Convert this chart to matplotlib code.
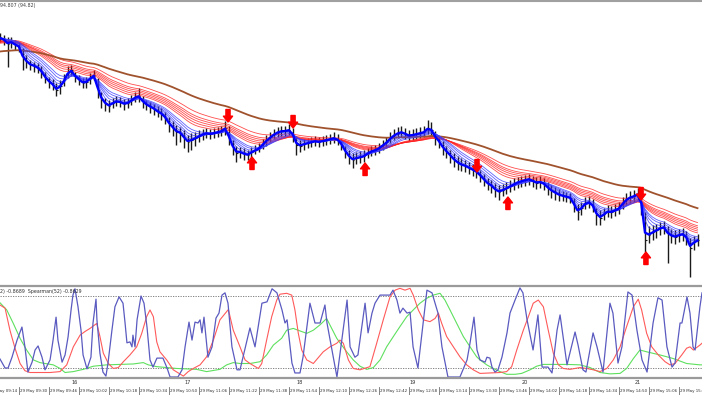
import numpy as np
import pandas as pd
import matplotlib
matplotlib.use("Agg")
import matplotlib.pyplot as plt
import matplotlib.transforms as mtransforms
from matplotlib.lines import Line2D

#------------- price data (2 minute bars from 09:20) -------------#

close = [94.962, 94.960, 94.956, 94.958, 94.955, 94.953, 94.942, 94.938, 94.935, 94.934,
         94.932, 94.928, 94.922, 94.918, 94.915, 94.910, 94.914, 94.920, 94.928, 94.930,
         94.923, 94.920, 94.917, 94.918, 94.922, 94.925, 94.910, 94.900, 94.896, 94.894,
         94.897, 94.899, 94.898, 94.896, 94.897, 94.900, 94.903, 94.904, 94.898, 94.895,
         94.893, 94.891, 94.888, 94.886, 94.882, 94.876, 94.872, 94.868, 94.867, 94.862,
         94.858, 94.860, 94.862, 94.864, 94.866, 94.867, 94.866, 94.867, 94.868, 94.869,
         94.872, 94.862, 94.852, 94.847, 94.848, 94.846, 94.845, 94.848, 94.850, 94.852,
         94.856, 94.860, 94.863, 94.866, 94.868, 94.869, 94.869, 94.870, 94.865, 94.855,
         94.854, 94.856, 94.857, 94.858, 94.859, 94.858, 94.859, 94.860, 94.861, 94.862,
         94.860, 94.855, 94.848, 94.843, 94.840, 94.842, 94.843, 94.844, 94.847, 94.849,
         94.850, 94.852, 94.855, 94.858, 94.862, 94.865, 94.867, 94.868, 94.866, 94.864,
         94.865, 94.866, 94.867, 94.868, 94.872, 94.870, 94.862, 94.858, 94.852, 94.848,
         94.844, 94.840, 94.837, 94.835, 94.834, 94.832, 94.830, 94.828, 94.824, 94.820,
         94.816, 94.814, 94.810, 94.808, 94.810, 94.812, 94.814, 94.816, 94.818, 94.819,
         94.820, 94.821, 94.819, 94.817, 94.818, 94.816, 94.812, 94.809, 94.807, 94.805,
         94.804, 94.803, 94.802, 94.795, 94.788, 94.792, 94.797, 94.798, 94.794, 94.785,
         94.782, 94.786, 94.789, 94.788, 94.790, 94.792, 94.797, 94.801, 94.803, 94.804,
         94.806, 94.795, 94.760, 94.765, 94.768, 94.770, 94.772, 94.773, 94.766, 94.764,
         94.763, 94.765, 94.766, 94.762, 94.752, 94.758, 94.760]

high = [94.967, 94.965, 94.963, 94.963, 94.960, 94.958, 94.952, 94.945, 94.940, 94.938,
        94.937, 94.934, 94.928, 94.923, 94.921, 94.917, 94.920, 94.926, 94.934, 94.935,
        94.928, 94.925, 94.922, 94.923, 94.927, 94.930, 94.922, 94.908, 94.902, 94.900,
        94.902, 94.904, 94.903, 94.901, 94.902, 94.905, 94.908, 94.912, 94.904, 94.900,
        94.898, 94.896, 94.894, 94.892, 94.888, 94.883, 94.879, 94.875, 94.873, 94.870,
        94.865, 94.867, 94.868, 94.870, 94.871, 94.872, 94.871, 94.872, 94.873, 94.874,
        94.879, 94.874, 94.860, 94.854, 94.853, 94.852, 94.850, 94.853, 94.855, 94.857,
        94.861, 94.865, 94.868, 94.871, 94.873, 94.874, 94.874, 94.876, 94.872, 94.864,
        94.860, 94.861, 94.862, 94.863, 94.864, 94.863, 94.864, 94.865, 94.866, 94.868,
        94.866, 94.861, 94.854, 94.850, 94.847, 94.848, 94.849, 94.850, 94.852, 94.854,
        94.855, 94.857, 94.860, 94.863, 94.868, 94.871, 94.873, 94.874, 94.872, 94.870,
        94.871, 94.872, 94.873, 94.874, 94.880, 94.878, 94.869, 94.864, 94.859, 94.854,
        94.850, 94.847, 94.844, 94.842, 94.840, 94.838, 94.836, 94.833, 94.830, 94.826,
        94.822, 94.820, 94.817, 94.815, 94.816, 94.818, 94.820, 94.822, 94.823, 94.824,
        94.825, 94.826, 94.824, 94.823, 94.824, 94.822, 94.818, 94.815, 94.813, 94.811,
        94.809, 94.808, 94.807, 94.802, 94.796, 94.798, 94.803, 94.804, 94.801, 94.792,
        94.790, 94.792, 94.795, 94.794, 94.796, 94.798, 94.803, 94.807, 94.809, 94.810,
        94.812, 94.805, 94.788, 94.774, 94.775, 94.776, 94.778, 94.779, 94.774, 94.771,
        94.770, 94.771, 94.772, 94.769, 94.762, 94.764, 94.766]

low = [94.958, 94.955, 94.933, 94.952, 94.950, 94.948, 94.930, 94.932, 94.930, 94.928,
       94.927, 94.922, 94.917, 94.912, 94.910, 94.904, 94.906, 94.914, 94.922, 94.924,
       94.918, 94.915, 94.912, 94.912, 94.916, 94.920, 94.902, 94.892, 94.889, 94.888,
       94.892, 94.894, 94.893, 94.890, 94.892, 94.895, 94.898, 94.898, 94.892, 94.890,
       94.887, 94.885, 94.883, 94.880, 94.876, 94.868, 94.864, 94.855, 94.858, 94.852,
       94.848, 94.850, 94.854, 94.858, 94.860, 94.862, 94.861, 94.862, 94.863, 94.864,
       94.865, 94.855, 94.845, 94.838, 94.842, 94.840, 94.840, 94.842, 94.846, 94.848,
       94.851, 94.854, 94.858, 94.861, 94.863, 94.864, 94.864, 94.865, 94.858, 94.845,
       94.848, 94.850, 94.852, 94.853, 94.854, 94.853, 94.854, 94.855, 94.856, 94.857,
       94.855, 94.850, 94.842, 94.836, 94.832, 94.836, 94.837, 94.838, 94.842, 94.844,
       94.845, 94.847, 94.850, 94.853, 94.857, 94.860, 94.862, 94.863, 94.861, 94.859,
       94.860, 94.861, 94.862, 94.863, 94.866, 94.864, 94.855, 94.852, 94.845, 94.842,
       94.837, 94.833, 94.830, 94.829, 94.828, 94.826, 94.824, 94.822, 94.818, 94.814,
       94.810, 94.807, 94.803, 94.800, 94.804, 94.806, 94.808, 94.810, 94.812, 94.813,
       94.814, 94.815, 94.813, 94.811, 94.812, 94.810, 94.805, 94.802, 94.800, 94.799,
       94.799, 94.798, 94.797, 94.788, 94.780, 94.785, 94.791, 94.792, 94.788, 94.775,
       94.775, 94.780, 94.783, 94.782, 94.784, 94.786, 94.791, 94.795, 94.797, 94.798,
       94.800, 94.785, 94.748, 94.757, 94.760, 94.762, 94.765, 94.766, 94.737, 94.757,
       94.756, 94.758, 94.759, 94.755, 94.723, 94.750, 94.754]

# moving average start levels read at the left edge
red_start = [94.956, 94.957, 94.958, 94.958, 94.959, 94.960]
brown_start = 94.948

# signal arrows (minutes after 09:20, price at arrow tip)
sell_t = [121.6, 156.3, 254.4, 341.9]
sell_p = [94.878, 94.872, 94.828, 94.800]
buy_t = [134.4, 194.7, 270.9, 344.5]
buy_p = [94.843, 94.837, 94.803, 94.748]

#------------- Spearman oscillators -------------#

fast_t = [0, 2.7, 4.3, 6.4, 9.1, 11.7, 13.3, 14.9, 17.1, 18.7,
          20.3, 22.4, 24, 26.7, 28.3, 29.9, 30.9, 33.1, 34.7, 36.3,
          37.9, 38.9, 40, 41.6, 43.2, 44.3, 46.4, 48.5, 49.6, 51.2,
          51.7, 53.3, 54.9, 56.5, 57.6, 59.7, 61.3, 63.5, 65.6, 66.7,
          67.7, 69.3, 70.4, 70.9, 72, 73.1, 75.2, 76.8, 78.4, 80,
          81.6, 83.7, 86.9, 89.1, 90.7, 94.9, 97.1, 98.7, 100.8, 102.4,
          104, 105.6, 106.7, 107.7, 108.8, 110.9, 113.1, 115.2, 116.8, 118.4,
          120, 121.6, 123.7, 126.4, 128,
          133.3, 136, 139.7, 142.4, 145.1, 147.7, 150.4, 152, 153.1, 155.7,
          157.3, 160, 161.6, 165.3, 168, 170.7, 173.3, 174.4, 179.7, 185.1,
          186.7, 189.3, 190.9, 194.7, 196.3, 198.4, 200, 202.7, 208, 209.6,
          211.7, 213.3, 214.9, 217.1, 218.7, 220.3, 222.9, 227.7, 230.4, 233.6,
          235.7, 238.9, 244.3,
          245.3, 249.1, 250.7, 252.8, 254.4, 256, 258.7, 259.7, 261.3, 262.4,
          264, 265.6, 267.7, 270.4, 272, 274.7, 277.3, 278.9, 281.1, 282.7,
          284.3, 286.9, 289.1, 292.3, 294.4, 297.1, 298.7, 302.4, 306.7, 308.3,
          310.9, 312.5, 316.3, 318.4, 321.6, 325.3, 326.9, 329.6, 331.7, 334.9,
          337.1, 339.7, 342.4, 345.1, 348.3, 350.9, 353.1, 355.7, 358.4, 360,
          362.7, 363.7, 366.4, 368, 369.6, 370.7, 373.3, 374.4]
fast_v = [-0.60, -0.80, -0.80, -0.56, -0.18, 0.11, -0.33, -0.89, -0.67, -0.40,
          -0.31, -0.56, -0.84, -0.62, -0.18, 0.33, -0.18, -0.67, -0.51, -0.11,
          0.49, 0.82, 0.96, 0.56, 0.04, -0.51, -0.82, -0.56, 0.20, 0.73,
          0.27, -0.47, -0.89, -0.98, -0.69, 0.04, 0.56, 0.78, 0.64, 0.20,
          -0.24, -0.22, -0.33, -0.07, -0.33, 0.27, 0.80, 0.64, 0.11, -0.62,
          -0.78, -0.58, -0.58, -0.80, -1.0, -1.0, -0.84, -0.33, 0.22, -0.18,
          0.22, 0.20, 0.27, -0.02, 0.33, -0.56, -0.33, 0.31, 0.42, 0.82,
          0.87, 0.64, -0.33, -0.84, -0.84,
          0.09, -0.33, 0.64, 0.67, 0.96, 0.87, 0.49, 0.20, 0.27, -0.69,
          -0.91, -0.91, -0.56, 0.64, 0.20, 0.20, 0.60, 0.20, -1.0, 0.71,
          -0.33, -0.56, -0.51, 0.64, -0.02, 0.42, 0.64, 0.82, 0.82, 0.93,
          0.71, 0.42, 0.53, 0.42, 0.44, -0.33, -0.80, 0.93, 0.87, 0.42,
          -0.33, -1.0, -1.0,
          -1.0, -0.62, -0.24, 0.33, -0.40, -0.62, -0.67, -0.56, -0.58, -0.78,
          -0.89, -0.84, -0.56, -0.02, 0.42, 0.71, 0.98, 0.87, 0.27, -0.07,
          -0.40, 0.38, -0.78, -0.78, -0.91, 0.04, 0.38, -0.73, 0.0, -0.29,
          -0.84, -0.89, -0.02, -0.33, -0.89, 0.64, 0.42, -0.69, -0.33, 0.89,
          0.82, 0.04, -0.62, -0.89, 0.20, 0.76, 0.71, -0.33, -0.78, -0.69,
          0.20, 0.20, 0.78, 0.42, -0.33, -0.40, 0.56, 0.87]

mid_t = [0, 2.7, 5.3, 8, 10.7, 13.3, 16, 26.7, 32, 35.6,
         39.1, 42.7, 45.3, 48, 51.6, 53.3, 55.1, 57.8, 60.4, 63.1,
         65.8, 69.3, 72.9, 75.6, 78.2, 80, 81.8, 83.6, 85.3, 88.9,
         92.4, 97.8, 100.4, 103.1, 106.7, 110.2, 113.8, 117.3, 121.8, 124.4,
         128, 130.7, 133.3, 137.8, 139.6, 142.2, 144.9, 147.6, 149.3, 152.9,
         155.6, 157.3, 159.1, 160.9, 163.6, 167.1, 172.4, 176, 179.6, 181.3,
         183.1, 185.8, 188.4, 192, 197.3, 200.9, 204.4, 208, 210.7, 213.3,
         216, 218.7, 220.4, 223.1, 225.8, 229.3, 232, 233.8, 235.6, 238.2,
         241.8, 245.3, 248.9, 252.4, 256, 266.7, 270.2, 272.9, 275.6, 279.1,
         281.8, 284.4, 287.1, 289.8, 292.4, 295.1, 297.8, 300.4, 304, 309.3,
         312.9, 316.4, 320, 323.6, 327.1, 330.7, 334.2, 337.8, 340.4, 342.2,
         344.9, 347.6, 351.1, 354.7, 357.3, 360, 363.6, 366.2, 368, 369.8,
         373.3, 374.4]
mid_v = [0.60, 0.53, 0.04, -0.36, -0.70, -0.86, -0.90, -0.90, -0.88, -0.73,
         -0.33, -0.07, 0.01, 0.08, 0.19, -0.10, -0.47, -0.70, -0.81, -0.79,
         -0.66, -0.51, -0.33, -0.03, 0.34, 0.49, 0.34, -0.22, -0.44, -0.62,
         -0.84, -0.98, -0.88, -0.81, -0.73, -0.55, -0.18, 0.27, 0.50, 0.04,
         -0.33, -0.62, -0.70, -0.81, -0.70, -0.18, 0.34, 0.71, 0.84, 0.86,
         0.82, 0.49, -0.03, -0.40, -0.62, -0.70, -0.44, -0.33, -0.25, -0.18,
         -0.25, -0.62, -0.81, -0.84, -0.77, -0.25, 0.27, 0.78, 0.93, 0.97,
         0.93, 0.97, 0.82, 0.49, 0.27, 0.23, 0.30, 0.42, 0.19, -0.10,
         -0.33, -0.55, -0.73, -0.84, -0.92, -0.90, -0.88, -0.77, -0.40, 0.04,
         0.34, 0.64, 0.71, 0.56, 0.04, -0.47, -0.73, -0.81, -0.83, -0.79,
         -0.81, -0.84, -0.88, -0.81, -0.62, -0.33, 0.12, 0.56, 0.73, 0.49,
         -0.03, -0.33, -0.51, -0.66, -0.73, -0.70, -0.51, -0.36, -0.33, -0.40,
         -0.29, -0.25]

slow_t = [0, 3.6, 7.1, 10.7, 14.2, 17.8, 21.3, 28.4, 32, 34.7,
          39.1, 44.4, 49.8, 56.9, 71.1, 76.4, 79.1, 83.6, 94.2, 104.9,
          110.2, 117.3, 120.9, 124.4, 128, 133.3, 138.7, 142.2, 145.8, 150.2,
          152.9, 156.4, 160.9, 163.6, 167.1, 170.7, 174.2, 176.9, 179.6, 182.2,
          184.9, 188.4, 192, 195.6, 199.1, 202.7, 206.2, 209.8, 213.3, 216.9,
          220.4, 224, 227.6, 231.1, 234.7, 237.3, 240, 243.6, 247.1, 250.7,
          254.2, 256, 259.6, 263.1, 266.7, 270.2, 274.7, 278.2, 282.7, 286.2,
          289.8, 302.2, 309.3, 314.7, 320, 325.3, 330.7, 334.2, 337.8, 341.3,
          344.9, 352, 359.1, 366.2, 373.3, 374.4]
slow_v = [0.65, 0.49, 0.19, -0.14, -0.40, -0.62, -0.68, -0.73, -0.81, -0.90,
          -0.88, -0.83, -0.76, -0.73, -0.71, -0.68, -0.73, -0.77, -0.81, -0.83,
          -0.88, -0.83, -0.73, -0.68, -0.70, -0.70, -0.66, -0.51, -0.29, -0.14,
          0.04, 0.08, 0.01, -0.03, 0.04, 0.16, 0.30, 0.08, -0.14, -0.29,
          -0.44, -0.62, -0.76, -0.83, -0.79, -0.62, -0.33, -0.10, 0.12, 0.34,
          0.49, 0.64, 0.75, 0.82, 0.86, 0.71, 0.49, 0.19, -0.10, -0.33,
          -0.55, -0.62, -0.73, -0.81, -0.88, -0.94, -0.94, -0.92, -0.84, -0.76,
          -0.72, -0.72, -0.73, -0.79, -0.90, -0.93, -0.92, -0.81, -0.59, -0.40,
          -0.44, -0.51, -0.59, -0.70, -0.73, -0.73]

time_ticks = ["09:14", "09:30", "09:46", "10:02", "10:18", "10:34", "10:50", "11:06",
              "11:22", "11:38", "11:54", "12:10", "12:26", "12:42", "12:58", "13:14",
              "13:30", "13:46", "14:02", "14:18", "14:34", "14:50", "15:06", "15:22"]
hour_ticks = ["10:00", "11:00", "12:00", "13:00", "14:00", "15:00"]
hour_labels = ["16", "17", "18", "19", "20", "21"]

# EMA spans in bars (bars are 2 minutes)
BLUE_SPANS = [1.5, 3, 4.5, 6, 8, 10]
RED_SPANS = [15, 17.5, 20, 22.5, 25, 30]
BROWN_SPAN = 55


def ema(values, span, start=None):
    """
    Exponential moving average, optionally starting from a given level
    """
    s = pd.Series(values if start is None else [start] + list(values))
    out = s.ewm(span=span, adjust=False).mean().to_numpy()
    return out if start is None else out[1:]


def to_minutes(hhmm):
    """
    Minutes after 09:20 for a 'HH:MM' string
    """
    h, m = hhmm.split(":")
    return (int(h) - 9) * 60 + int(m) - 20


def main():
    fig = plt.figure(figsize=(7.02, 3.95), dpi=100)
    fig.patch.set_facecolor("white")

    bar_t = pd.date_range("2019-05-29 09:20", periods=len(close), freq="2min")
    t = ((bar_t - bar_t[0]).total_seconds() / 60).to_numpy()
    x_max = 374.4

    #------------- price window -------------#
    ax = fig.add_axes([0, 111 / 395, 1, 282 / 395])
    ax.set_xlim(0, x_max)
    ax.set_ylim(94.716, 94.998)
    ax.axis("off")

    ax.vlines(t, low, high, color="#1a1a1a", lw=1.0, zorder=2)
    ax.hlines(close, t, t + 0.9, color="#1a1a1a", lw=0.8, zorder=2)

    for span, start in zip(RED_SPANS, red_start):
        ax.plot(t, ema(close, span, start), color="#ff2020", lw=0.6, alpha=0.8, zorder=3)
    ax.plot(t, ema(close, BROWN_SPAN, brown_start), color="#a0522d", lw=1.3, zorder=3)

    for span in BLUE_SPANS[1:]:
        ax.plot(t, ema(close, span), color="#3a3aff", lw=0.6, alpha=0.8, zorder=4)
    ax.plot(t, ema(close, BLUE_SPANS[0]), color="#0000ff", lw=1.7, zorder=5)

    arrow = dict(arrowstyle="simple,head_length=0.7,head_width=1.1,tail_width=0.5",
                 color="#ff0000", shrinkA=0, shrinkB=0, mutation_scale=6)
    for x, p in zip(sell_t, sell_p):
        ax.annotate("", xy=(x, p), xytext=(0, 9), textcoords="offset points",
                    arrowprops=arrow, zorder=6)
    for x, p in zip(buy_t, buy_p):
        ax.annotate("", xy=(x, p), xytext=(0, -9), textcoords="offset points",
                    arrowprops=arrow, zorder=6)

    ax.text(0.0, 0.989, "94.807 (94.82)", transform=ax.transAxes, fontsize=3.4,
            color="#404040", ha="left", va="center")

    #------------- oscillator window -------------#
    ax2 = fig.add_axes([0, 17 / 395, 1, 92 / 395])
    ax2.set_xlim(0, x_max)
    ax2.set_ylim(-1.022, 1.022)
    ax2.set_xticks([])
    ax2.set_yticks([])
    for side in ["left", "right"]:
        ax2.spines[side].set_visible(False)
    for side in ["top", "bottom"]:
        ax2.spines[side].set_color("#9a9a9a")
        ax2.spines[side].set_linewidth(1.6)

    for level in [0.8, -0.8]:
        ax2.axhline(level, color="#707070", lw=0.6, ls=(0, (1.5, 1.5)))

    ax2.plot(slow_t, slow_v, color="#5ee05e", lw=0.8)
    ax2.plot(mid_t, mid_v, color="#ff5a5a", lw=0.8)
    ax2.plot(fast_t, fast_v, color="#5a5ac0", lw=0.9)

    ax2.text(0.0, 0.935, "2) -0.8689  Spearman(52) -0.8629", transform=ax2.transAxes,
             fontsize=3.4, color="#303030", ha="left", va="center")

    trans = mtransforms.blended_transform_factory(ax2.transData, ax2.transAxes)
    for hh, lab in zip(hour_ticks, hour_labels):
        ax2.text(to_minutes(hh), -0.045, lab, transform=trans, fontsize=3.6,
                 color="#303030", ha="center", va="center", clip_on=False)
    for hh in time_ticks:
        x = to_minutes(hh)
        ax2.add_line(Line2D([x, x], [-0.10, -0.19], transform=trans, color="#707070",
                            lw=0.6, clip_on=False))
        ax2.text(x + 0.8, -0.145, "29 May " + hh, transform=trans, fontsize=2.9,
                 color="#303030", ha="left", va="center", clip_on=False)

    fig.add_artist(Line2D([0, 1], [1 - 1 / 395, 1 - 1 / 395], color="#a0a0a0", lw=1.5))

    fig.savefig("out.png", dpi=100, facecolor="white")


if __name__ == "__main__":
    main()
